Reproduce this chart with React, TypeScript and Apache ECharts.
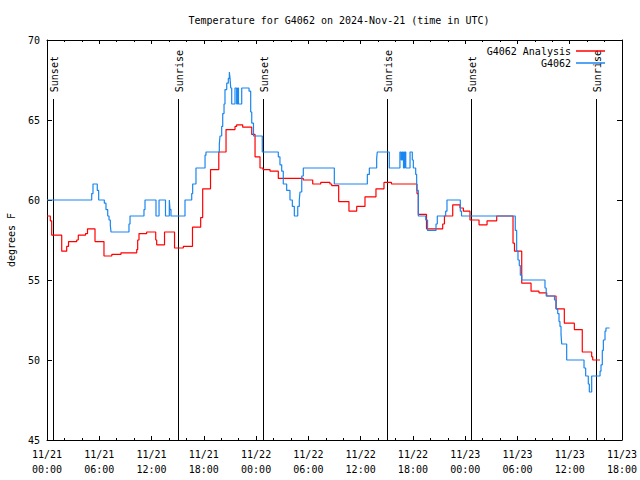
import React, { useEffect, useRef } from "react";
import * as echarts from "echarts";

// Hours since 2024-11-21 00:00 UTC
const tickLabels = [
  "11/21\n00:00", "11/21\n06:00", "11/21\n12:00", "11/21\n18:00",
  "11/22\n00:00", "11/22\n06:00", "11/22\n12:00", "11/22\n18:00",
  "11/23\n00:00", "11/23\n06:00", "11/23\n12:00", "11/23\n18:00",
];

const analysisHours = [
  0, 0.38, 0.54, 1.69, 2.26, 2.47, 3.41, 3.59, 4.42, 4.65, 5.51, 6.54, 7.44, 8.49,
  10.3, 10.41, 10.56, 11.44, 12.48, 12.59, 13.49, 14.64, 15.65, 16.7, 17.64, 17.87,
  18.77, 19.72, 20.55, 21.58, 21.77, 22.46, 23.5, 23.88, 24.45, 24.79, 25.6, 26.55,
  29.42, 30.5, 31.42, 32.48, 32.68, 33.48, 34.66, 35.55, 36.5, 37.76, 38.68, 39.54,
  42.47, 42.62, 43.56, 45.42, 45.62, 46.57, 47.41, 47.79, 48.55, 49.59, 50.51, 51.62,
  53.49, 53.66, 54.49, 55.56, 56.47, 57.36, 58.43, 59.38, 60.53, 61.44, 62.52, 62.64,
  63.48,
];
const analysisTemps = [
  59.0, 58.7, 57.8, 56.8, 57.1, 57.4, 57.5, 57.8, 57.9, 58.2, 57.4, 56.5, 56.6, 56.7,
  56.9, 57.5, 57.9, 58.0, 57.5, 57.2, 58.0, 57.0, 57.1, 58.3, 58.9, 60.7,
  61.9, 63.0, 64.4, 64.6, 64.7, 64.55, 64.1, 62.7, 62.0, 61.9, 61.8, 61.35,
  61.25, 61.0, 61.1, 61.0, 60.9, 59.9, 59.3, 59.6, 60.2, 60.7, 61.1, 61.0,
  60.4, 59.1, 58.2, 58.5, 59.0, 59.7, 59.5, 59.3, 58.75, 58.45, 58.7, 59.0,
  57.3, 56.8, 54.8, 54.3, 54.2, 54.0, 53.2, 52.3, 51.9, 50.5, 50.2, 50.0,
  50.0,
];

const obsHours = [
  0, 5.13, 5.28, 5.77, 5.93, 6.58, 6.77, 6.97, 7.12, 7.27, 7.35, 9.41, 9.53, 11.13,
  11.25, 12.51, 12.86, 13.6, 14.04, 14.12, 14.23, 15.84, 16.61, 16.72, 17.1, 18.14,
  18.25, 19.78, 19.86, 20.05, 20.17, 20.32, 20.43, 20.63, 20.81, 20.93, 21.01, 21.09,
  21.2, 21.58, 21.77, 21.89, 21.98, 22.35, 23.19, 23.38, 23.5, 23.7, 24.71, 26.55,
  26.74, 26.94, 27.12, 27.51, 27.89, 28.16, 28.39, 28.78, 28.96, 29.04, 29.24, 29.42,
  32.98, 36.77, 37.0, 37.84, 37.91, 39.29, 40.51, 40.66, 40.8, 40.92, 41.04, 41.18,
  41.67, 41.93, 42.05, 42.32, 42.43, 42.62, 43.47, 43.68, 44.65, 44.8, 45.76, 45.91,
  47.44, 47.58, 53.75, 53.91, 54.06, 54.21, 54.33, 54.49, 57.16, 57.3, 58.25, 58.43,
  58.62, 58.77, 58.88, 59.0, 59.08, 59.65, 61.64, 61.83, 62.13, 62.25, 62.52, 63.48,
  63.59, 63.74, 63.86, 64.05, 64.16, 64.57,
];
const obsTemps = [
  60.0, 60.4, 61.0, 60.6, 60.0, 59.8, 59.4, 59.0, 58.75, 58.4, 58.0, 58.5, 59.0, 59.4,
  60.0, 59.0, 60.0, 59.0, 60.0, 59.4, 59.0, 60.0, 60.4, 61.0, 62.0, 62.8,
  63.0, 63.5, 64.0, 64.6, 65.4, 66.0, 66.9, 67.3, 67.6, 68.0, 67.6, 67.0,
  66.0, 67.0, 66.0, 67.0, 66.0, 67.0, 66.8, 65.5, 64.8, 64.0, 63.0, 62.7,
  62.2, 61.8, 61.0, 60.6, 60.0, 59.6, 59.0, 59.6, 60.0, 60.5, 61.5, 62.0,
  61.0, 61.6, 62.0, 62.6, 63.0, 62.0, 63.0, 62.5, 63.0, 62.0, 63.0, 62.0,
  63.0, 62.5, 62.0, 61.6, 60.6, 59.0, 58.75, 58.1, 58.5, 59.0, 59.3, 60.0,
  59.3, 59.0, 58.1, 56.8, 56.25, 55.9, 55.3, 55.0, 54.5, 54.0, 53.75, 53.2,
  52.9, 52.4, 52.1, 51.6, 51.0, 50.0, 49.5, 49.0, 48.5, 48.0, 49.0, 49.3,
  49.7, 50.6, 51.25, 51.8, 52.0, 52.0,
];

const sunEvents = ["Sunset", "Sunrise", "Sunset", "Sunrise", "Sunset", "Sunrise"];
const sunHours = [0.7, 15.03, 24.79, 39.03, 48.67, 63.02];

const FONT = '"DejaVu Sans Mono", "Liberation Mono", monospace';

export default function App() {
  const ref = useRef<HTMLDivElement>(null);
  useEffect(() => {
    if (!ref.current) return;
    const chart = echarts.init(ref.current, undefined, { renderer: "svg" });
    const markerTop = 66.3;
    const axisCommon = {
      type: "value",
      min: 0,
      max: 66,
      interval: 6,
      axisLine: { show: true, onZero: false, lineStyle: { color: "#000", width: 1 } },
      splitLine: { show: false },
    };
    const yCommon = {
      type: "value",
      min: 45,
      max: 70,
      interval: 5,
      axisLine: { show: true, onZero: false, lineStyle: { color: "#000", width: 1 } },
      splitLine: { show: false },
      axisTick: { show: true, inside: true, length: 5, lineStyle: { color: "#000" } },
    };
    chart.setOption({
      animation: false,
      backgroundColor: "#fff",
      textStyle: { fontFamily: FONT },
      title: {
        text: "Temperature for G4062 on 2024-Nov-21 (time in UTC)",
        left: 334,
        top: 10,
        textAlign: "center",
        textStyle: { fontFamily: FONT, fontSize: 10, fontWeight: "normal", color: "#000" },
      },
      legend: {
        data: [
          { name: "G4062 Analysis", icon: "rect" },
          { name: "G4062", icon: "rect" },
        ],
        orient: "vertical",
        right: 30,
        top: 41,
        align: "right",
        itemWidth: 29,
        itemHeight: 1.5,
        itemGap: 2,
        textStyle: { fontFamily: FONT, fontSize: 10, color: "#000" },
      },
      grid: {
        left: 47,
        right: 18,
        top: 40,
        bottom: 40,
        containLabel: false,
        outerBoundsMode: "none",
      },
      xAxis: [
        {
          ...axisCommon,
          position: "bottom",
          axisTick: { show: true, inside: true, length: 4, lineStyle: { color: "#000" } },
          minorTick: { show: true, splitNumber: 3, length: 2, lineStyle: { color: "#000" } },
          axisLabel: {
            show: true,
            margin: 7,
            lineHeight: 15,
            fontFamily: FONT,
            fontSize: 10,
            color: "#000",
            formatter: (v: number) => tickLabels[Math.round(v / 6)] ?? "",
          },
        },
        {
          ...axisCommon,
          position: "top",
          axisTick: { show: true, inside: true, length: 4, lineStyle: { color: "#000" } },
          minorTick: { show: true, splitNumber: 3, length: 2, lineStyle: { color: "#000" } },
          axisLabel: { show: false },
        },
      ],
      yAxis: [
        {
          ...yCommon,
          position: "left",
          name: "degrees F",
          nameLocation: "middle",
          nameGap: 31,
          nameRotate: 90,
          nameTextStyle: { fontFamily: FONT, fontSize: 10, color: "#000" },
          axisLabel: { show: true, margin: 7, fontFamily: FONT, fontSize: 10, color: "#000" },
        },
        {
          ...yCommon,
          position: "right",
          axisLabel: { show: false },
        },
      ],
      series: [
        {
          type: "custom",
          name: "sun",
          xAxisIndex: 0,
          yAxisIndex: 0,
          silent: true,
          clip: false,
          z: 1,
          data: sunHours.map((h) => [h, 45]),
          renderItem: (params: any, api: any) => {
            const h = api.value(0);
            const bottom = api.coord([h, 45]);
            const top = api.coord([h, markerTop]);
            const cx = Math.round(bottom[0]) + 0.5;
            return {
              type: "group",
              children: [
                {
                  type: "line",
                  shape: { x1: cx, y1: bottom[1], x2: cx, y2: Math.round(top[1]) },
                  style: { stroke: "#000", lineWidth: 1 },
                },
                {
                  type: "text",
                  x: cx + 1,
                  y: top[1] - 7,
                  rotation: Math.PI / 2,
                  style: {
                    text: sunEvents[params.dataIndex],
                    fill: "#000",
                    font: `10px ${FONT}`,
                    align: "left",
                    verticalAlign: "middle",
                  },
                },
              ],
            };
          },
        },
        {
          type: "line",
          name: "G4062 Analysis",
          step: "end",
          symbol: "none",
          showSymbol: false,
          z: 2,
          lineStyle: { color: "#ff0000", width: 1.2 },
          itemStyle: { color: "#ff0000" },
          data: analysisHours.map((h, i) => [h, analysisTemps[i]]),
        },
        {
          type: "line",
          name: "G4062",
          step: "end",
          symbol: "none",
          showSymbol: false,
          z: 3,
          lineStyle: { color: "#1a86f0", width: 1.2 },
          itemStyle: { color: "#1a86f0" },
          data: obsHours.map((h, i) => [h, obsTemps[i]]),
        },
      ],
    });
    return () => chart.dispose();
  }, []);
  return (
    <div
      ref={ref}
      style={{ position: "fixed", left: 0, top: 0, width: 640, height: 480 }}
    />
  );
}
